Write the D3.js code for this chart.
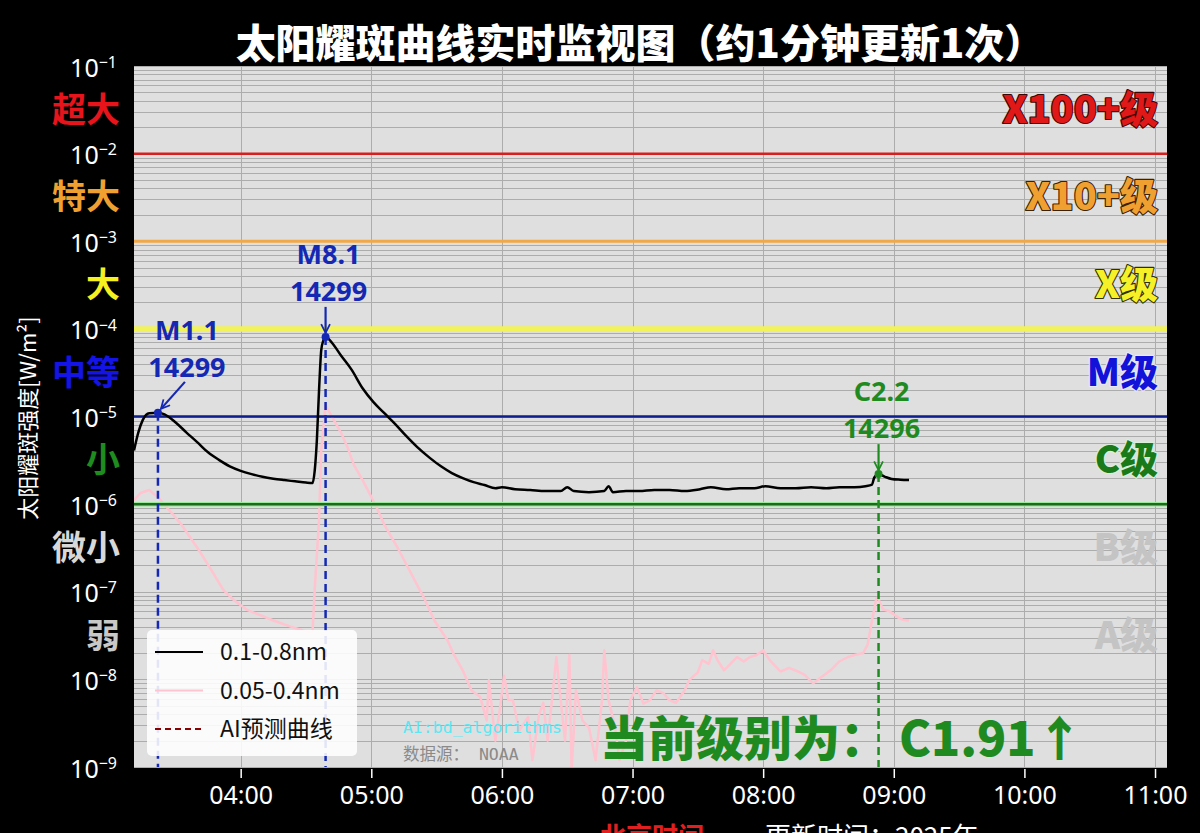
<!DOCTYPE html>
<html><head><meta charset="utf-8">
<script src="https://cdn.jsdelivr.net/npm/d3@7"></script>
<style>
html,body{margin:0;padding:0;background:#000;}
svg{display:block;font-family:"Noto Sans CJK SC","Noto Sans",sans-serif;}
</style></head><body>
<svg id="chart" width="1200" height="833"></svg>
<script>
// ---------- data ----------
const titleText = "太阳耀斑曲线实时监视图（约1分钟更新1次）";
const yAxisTitle = "太阳耀斑强度[W/m²]";
const yTickExponents = [-1,-2,-3,-4,-5,-6,-7,-8,-9];
const xTickLabels = ["04:00","05:00","06:00","07:00","08:00","09:00","10:00","11:00"];
const xDomain = ["03:11","11:05:30"];
const yDomain = [1e-9, 1e-1];

const leftClassLabels = ["超大","特大","大","中等","小","微小","弱"];
const rightClassLabels = ["X100+级","X10+级","X级","M级","C级","B级","A级"];
const thresholdValues = [1e-2,1e-3,1e-4,1e-5,1e-6];

const longTimes = ["03:11","03:13","03:15","03:18","03:22","03:25","03:30","03:35","03:40","03:45","03:50","03:55",
 "04:00","04:05","04:10","04:15","04:20","04:25","04:30","04:33","04:34","04:35","04:36","04:37","04:38","04:39",
 "04:42","04:46","04:51","04:56","05:01","05:06","05:11","05:16","05:21","05:27","05:32","05:37","05:42","05:47",
 "05:52","05:57","06:00","06:06","06:13","06:20","06:27","06:30","06:33","06:40","06:47","06:49","06:51","06:57",
 "07:03","07:10","07:17","07:24","07:31","07:36","07:43","07:49","07:56","08:01","08:08","08:15","08:22","08:29",
 "08:35","08:42","08:47","08:50","08:51","08:53","08:56","08:59","09:03","09:07"];
const longValues = [4.1e-6,6.6e-6,9.1e-6,1.09e-5,1.1e-5,1.06e-5,8.6e-6,6.6e-6,5.1e-6,3.9e-6,3.2e-6,2.7e-6,
 2.4e-6,2.2e-6,2.05e-6,1.95e-6,1.88e-6,1.82e-6,1.76e-6,1.74e-6,2.4e-6,5.4e-6,2.0e-5,5.7e-5,7.4e-5,8.1e-5,
 6.9e-5,5.0e-5,3.4e-5,2.1e-5,1.46e-5,1.09e-5,8.2e-6,6.0e-6,4.5e-6,3.35e-6,2.7e-6,2.26e-6,1.98e-6,1.78e-6,
 1.65e-6,1.52e-6,1.56e-6,1.48e-6,1.45e-6,1.41e-6,1.41e-6,1.56e-6,1.41e-6,1.37e-6,1.41e-6,1.6e-6,1.37e-6,1.41e-6,
 1.41e-6,1.45e-6,1.45e-6,1.41e-6,1.48e-6,1.56e-6,1.48e-6,1.52e-6,1.52e-6,1.6e-6,1.52e-6,1.52e-6,1.56e-6,1.52e-6,
 1.56e-6,1.56e-6,1.6e-6,1.67e-6,2.0e-6,2.2e-6,2.05e-6,1.94e-6,1.9e-6,1.88e-6];

const shortTimes = ["03:11","03:14","03:18","03:22","03:26","03:32","03:40","03:46","03:52","03:57","04:03","04:09",
 "04:15","04:23","04:29","04:33","04:34","04:36","04:37","04:39","04:41","04:46","04:49","04:52","04:56","05:02",
 "05:06","05:12","05:18","05:24","05:29","05:35","05:38","05:42","05:46","05:50","05:53","05:54","05:57","05:59",
 "06:01","06:03","06:05","06:08","06:12","06:14","06:17","06:19","06:21","06:23","06:25","06:27","06:29","06:31",
 "06:32","06:34","06:37","06:40","06:43","06:46","06:47","06:49","06:52","06:54","06:57","06:59","07:02","07:05",
 "07:08","07:11","07:14","07:17","07:20","07:24","07:26","07:30","07:32","07:35","07:37","07:39","07:42","07:45",
 "07:48","07:51","07:54","07:57","08:00","08:03","08:08","08:12","08:16","08:19","08:23","08:26","08:31","08:35",
 "08:39","08:42","08:46","08:48","08:50","08:52","08:53","08:55","08:58","09:02","09:04","09:07"];
const shortValues = [1.11e-6,1.34e-6,1.45e-6,1.2e-6,9.2e-7,6.2e-7,3.2e-7,1.86e-7,1.05e-7,8.0e-8,6.2e-8,5.4e-8,
 4.7e-8,4.0e-8,3.6e-8,3.4e-8,1.05e-7,6.6e-7,4.1e-6,1.35e-5,1.09e-5,6.6e-6,4.5e-6,2.8e-6,1.88e-6,9.7e-7,
 5.8e-7,3.2e-7,1.67e-7,8.7e-8,4.7e-8,2.8e-8,1.9e-8,1.27e-8,7.5e-9,6.3e-9,3.4e-9,9.8e-9,2.0e-9,4.5e-9,
 1.1e-8,5.8e-9,5.8e-9,2.6e-9,3.7e-9,1.2e-9,3.9e-9,5.4e-9,2.0e-9,5.8e-9,1.8e-8,5.8e-9,2.0e-9,1.9e-8,
 9e-10,7.5e-9,3.4e-9,2.8e-9,1.2e-9,5.8e-9,2.15e-8,5.8e-9,2.8e-9,1.2e-9,2.0e-9,5.8e-9,8.1e-9,5.3e-9,
 5.8e-9,7.5e-9,7.0e-9,5.8e-9,5.4e-9,7.5e-9,9.8e-9,1.2e-8,1.66e-8,1.5e-8,2.15e-8,1.66e-8,1.27e-8,1.5e-8,
 1.8e-8,1.6e-8,1.8e-8,1.9e-8,2.15e-8,1.66e-8,1.23e-8,1.35e-8,1.23e-8,1.13e-8,9.0e-9,1.03e-8,1.27e-8,1.6e-8,
 1.8e-8,1.9e-8,2.0e-8,2.5e-8,4.7e-8,8.5e-8,8.2e-8,6.3e-8,6.0e-8,5.1e-8,4.8e-8,4.7e-8];

const flareNames = ["M1.1","M8.1","C2.2"];
const flareRegions = ["14299","14299","14296"];
const flareTimes = ["03:22","04:39","08:53"];
const flareValues = [1.1e-5, 8.1e-5, 2.2e-6];

const legendLabels = ["0.1-0.8nm","0.05-0.4nm","AI预测曲线"];
const currentLevelText = "当前级别为： C1.91↑";

// ---------- styles ----------
const leftClassColors = ["#e8141c","#f0a030","#f5f020","#1414e6","#1e8c1e","#d8d8d8","#c8c8c8"];
const rightClassFill = ["#e01818","#f0a030","#f5f028","#1212d8","#1a7a1a","#c4c4c4","#c4c4c4"];
const rightClassStroke = ["#3a0505","#3a2205","#303000","#e8e8ff","#d8f0d8","none","none"];
const thresholdColors = ["#d62020","#f0a848","#f2f25a","#0d1f8c","#1a6b1a"];
const thresholdWidths = [2.5,3,5.5,2.5,2.5];
const flareColors = ["#1428b4","#1428b4","#1f8a1f"];

// ---------- layout ----------
const W = 1200, H = 833;
const L = 134, R = 1167, T = 66, B = 767;
const parseT = s => { const p = s.split(":").map(Number); return new Date(2025,0,1,p[0],p[1],p[2]||0); };

const svg = d3.select("#chart");
svg.append("rect").attr("width",W).attr("height",H).attr("fill","#000");

const x = d3.scaleTime().domain(xDomain.map(parseT)).range([L,R]);
const y = d3.scaleLog().domain(yDomain).range([B,T]);

svg.append("defs").append("clipPath").attr("id","plotclip")
  .append("rect").attr("x",L).attr("y",T).attr("width",R-L).attr("height",B-T);

svg.append("rect").attr("x",L).attr("y",T).attr("width",R-L).attr("height",B-T).attr("fill","#dfdfdf");

// grid
const grid = svg.append("g");
grid.selectAll("line.h").data(y.ticks()).join("line")
  .attr("x1",L).attr("x2",R).attr("y1",d=>Math.round(y(d))+0.5).attr("y2",d=>Math.round(y(d))+0.5)
  .attr("stroke","#acacac").attr("stroke-width",1);
grid.selectAll("line.v").data(xTickLabels.map(parseT)).join("line")
  .attr("y1",T).attr("y2",B).attr("x1",d=>Math.round(x(d))+0.5).attr("x2",d=>Math.round(x(d))+0.5)
  .attr("stroke","#acacac").attr("stroke-width",1);

const plot = svg.append("g").attr("clip-path","url(#plotclip)");

const shortData = shortTimes.map((t,i)=>({t:parseT(t),v:shortValues[i]}));
const longData = longTimes.map((t,i)=>({t:parseT(t),v:longValues[i]}));
const lineGen = d3.line().x(d=>x(d.t)).y(d=>y(d.v));
plot.append("path").datum(shortData).attr("d",lineGen).attr("fill","none")
  .attr("stroke","#ffc4cf").attr("stroke-width",2.5).attr("stroke-linejoin","round");

// thresholds
thresholdValues.forEach((v,i)=>{
  if (i===4) plot.append("line").attr("x1",L).attr("x2",R).attr("y1",y(v)).attr("y2",y(v))
     .attr("stroke","#9be89b").attr("stroke-width",4.5);
  plot.append("line").attr("x1",L).attr("x2",R).attr("y1",y(v)).attr("y2",y(v))
     .attr("stroke",thresholdColors[i]).attr("stroke-width",thresholdWidths[i]);
});

// long-wave (black)
plot.append("path").datum(longData).attr("d",d3.line().x(d=>x(d.t)).y(d=>y(d.v)).curve(d3.curveMonotoneX))
  .attr("fill","none").attr("stroke","#000").attr("stroke-width",2.5).attr("stroke-linejoin","round");

// flare markers
const defs = svg.select("defs");
flareColors.forEach((c,i)=>{
  defs.append("marker").attr("id","arr"+i).attr("viewBox","0 0 10 10").attr("refX",9).attr("refY",5)
    .attr("markerWidth",5).attr("markerHeight",5).attr("orient","auto")
    .append("path").attr("d","M1,1 L9,5 L1,9").attr("fill","none").attr("stroke",c).attr("stroke-width",1.6);
});
const flareDx = [29,3,3];
flareTimes.forEach((t,i)=>{
  const px = x(parseT(t)), py = y(flareValues[i]), c = flareColors[i];
  plot.append("line").attr("x1",px).attr("x2",px).attr("y1",py).attr("y2",B)
    .attr("stroke",c).attr("stroke-width",2.5).attr("stroke-dasharray","8,5");
  plot.append("circle").attr("cx",px).attr("cy",py).attr("r",4).attr("fill",c);
  const sx = i===0 ? px+27 : px, sy = i===0 ? py-31 : py-30;
  plot.append("line").attr("x1",sx).attr("y1",sy).attr("x2",i===0?px+3:px).attr("y2",py-4)
    .attr("stroke",c).attr("stroke-width",2.2).attr("marker-end","url(#arr"+i+")");
  const tg = svg.append("g").attr("fill",c).attr("font-weight","bold").attr("font-size",27)
    .attr("text-anchor","middle").attr("font-family","'Noto Sans','Noto Sans CJK SC',sans-serif");
  tg.append("text").attr("x",px+flareDx[i]).attr("y",py-73).text(flareNames[i]);
  tg.append("text").attr("x",px+flareDx[i]).attr("y",py-36).text(flareRegions[i]);
});

// right class labels
rightClassLabels.forEach((s,i)=>{
  const yc = y(Math.pow(10,-1.5-i));
  const t = svg.append("text").attr("x",1158).attr("y",yc+13).attr("text-anchor","end")
    .attr("font-size",38).attr("font-weight","900").attr("fill",rightClassFill[i]).text(s);
  if (rightClassStroke[i]!=="none") t.attr("stroke",rightClassStroke[i]).attr("stroke-width",2.2)
    .attr("paint-order","stroke").attr("stroke-linejoin","round");
});

// left class labels
leftClassLabels.forEach((s,i)=>{
  const yc = y(Math.pow(10,-1.5-i));
  svg.append("text").attr("x",120).attr("y",yc+12).attr("text-anchor","end")
    .attr("font-size",34).attr("font-weight","bold").attr("fill",leftClassColors[i]).text(s);
});

// y axis
const yAxis = svg.append("g").attr("transform",`translate(${L},0)`)
  .call(d3.axisLeft(y).tickValues(yTickExponents.map(e=>Math.pow(10,e))).tickSize(0).tickPadding(17));
yAxis.select(".domain").remove();
yAxis.selectAll(".tick text").text(null).attr("fill","#fff").attr("font-size",25)
  .attr("font-family","'Noto Sans',sans-serif").attr("dy","0.4em")
  .each(function(d){
    const e = Math.round(Math.log10(d));
    const s = d3.select(this);
    s.append("tspan").text("10");
    s.append("tspan").attr("dy","-0.55em").attr("font-size",16).text("−"+(-e));
  });

// x axis
const xAxis = svg.append("g").attr("transform",`translate(0,${B+2})`)
  .call(d3.axisBottom(x).tickValues(xTickLabels.map(parseT)).tickFormat(d3.timeFormat("%H:%M")).tickSize(9).tickPadding(8));
xAxis.select(".domain").remove();
xAxis.selectAll(".tick line").attr("stroke","#fff").attr("stroke-width",1.5);
xAxis.selectAll(".tick text").attr("fill","#fff").attr("font-size",25).attr("font-family","'Noto Sans',sans-serif");

// y axis title
svg.append("text").attr("transform","translate(36,418) rotate(-90)").attr("text-anchor","middle")
  .attr("fill","#fff").attr("font-size",22).text(yAxisTitle);

// title
svg.append("text").attr("x",640).attr("y",58).attr("text-anchor","middle").attr("fill","#fff")
  .attr("font-size",40).attr("font-weight","900").text(titleText);

// legend
const lg = svg.append("g");
lg.append("rect").attr("x",147).attr("y",630).attr("width",210).attr("height",126).attr("rx",5)
  .attr("fill","#fff").attr("fill-opacity",0.88);
const legStroke = ["#000","#ffc4cf","#8b0000"], legDash = [null,null,"6,4"];
legendLabels.forEach((s,i)=>{
  const ly = 652 + i*38.5;
  lg.append("line").attr("x1",155).attr("x2",203).attr("y1",ly).attr("y2",ly)
    .attr("stroke",legStroke[i]).attr("stroke-width",2).attr("stroke-dasharray",legDash[i]);
  lg.append("text").attr("x",220).attr("y",ly+8).attr("font-size",23).attr("fill","#111").text(s);
});

// watermark texts
svg.append("text").attr("x",403).attr("y",733).attr("font-family","'DejaVu Sans Mono',monospace")
  .attr("font-size",16.5).attr("fill","#5ee6f2").text("AI:bd_algorithms");
svg.append("text").attr("x",403).attr("y",760).attr("font-family","'DejaVu Sans Mono','Noto Sans CJK SC',monospace")
  .attr("font-size",16.5).attr("fill","#8a8a8a").text("数据源： NOAA");

// current level
svg.append("text").attr("x",600).attr("y",756).attr("font-size",48).attr("font-weight","900")
  .attr("fill","#1f8a1f").text(currentLevelText);

// bottom texts (partly below the frame, as in the reference)
svg.append("text").attr("x",600).attr("y",846).attr("font-size",26).attr("font-weight","bold")
  .attr("fill","#e02020").text("北京时间");
svg.append("text").attr("x",765).attr("y",846).attr("font-size",26)
  .attr("fill","#fff").text("更新时间：2025年");
</script>
</body></html>
